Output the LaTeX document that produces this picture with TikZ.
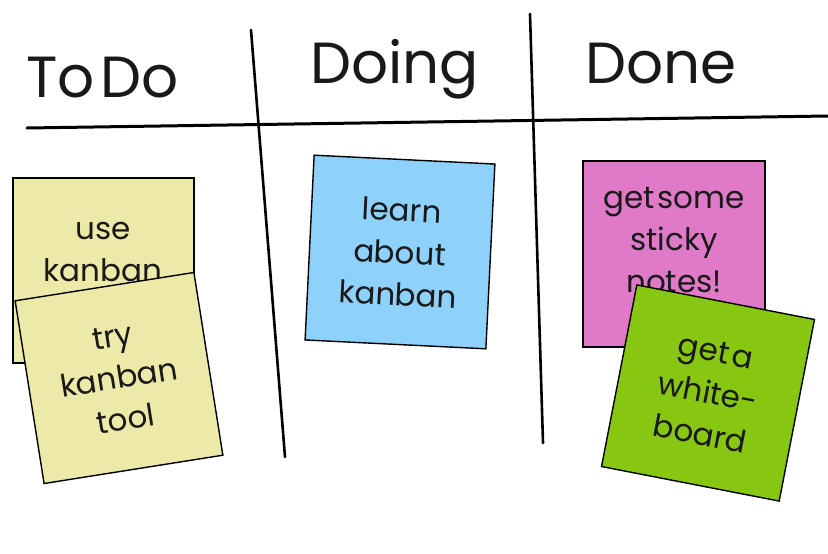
\documentclass[tikz,border=0pt]{standalone}
\usepackage{fontspec}
\setmainfont{Poppins}
\definecolor{ink}{RGB}{25,25,25}
\definecolor{noteyellow}{RGB}{237,233,168}
\definecolor{noteblue}{RGB}{142,209,250}
\definecolor{notepink}{RGB}{224,122,200}
\definecolor{notegreen}{RGB}{136,199,17}
\begin{document}
\begin{tikzpicture}[x=1pt,y=-1pt,
  board/.style={line width=3pt, black, line cap=round},
  note/.style={draw=black, line width=1.4pt, minimum width=181pt, minimum height=185pt, inner sep=0pt, outer sep=0pt, font=\fontsize{31}{42}\selectfont, text=ink, align=center},
  notetext/.style={font=\fontsize{31}{42}\selectfont, text=ink, align=center, inner sep=0pt},
  head/.style={font=\fontsize{58}{58}\selectfont, text=ink, inner sep=0pt, anchor=base west}]
\useasboundingbox (0,0) rectangle (828,554);
\fill[white] (0,0) rectangle (828,554);
% board lines
\coordinate (hl) at (27,128);
\coordinate (hr) at (828,116);
\coordinate (v1t) at (251,30);
\coordinate (v1b) at (285,457);
\coordinate (v2t) at (530,14);
\coordinate (v2b) at (543,443);
\draw[board] (hl) -- (hr);
\draw[board, line width=2.6pt] (v1t) -- (v1b);
\draw[board, line width=2.6pt] (v2t) -- (v2b);
% headers
\node[head] (htodo) at (26,97) {To\hspace{0.1em}Do};
\node[head] (hdoing) at (310,83) {Doing};
\node[head] (hdone) at (585,83) {Done};
% To Do notes
\node[note, fill=noteyellow] (n1) at (103.5,270.5) {};
\node[notetext] (t1) at (103,252) {use\\kanban};
\node[note, fill=noteyellow, rotate=9] (n2) at (119,378) {try\\kanban\\tool};
% Doing note
\node[note, fill=noteblue, rotate=-2.8] (n3) at (400,252) {learn\\about\\kanban};
% Done notes
\node[note, fill=notepink, minimum width=182pt, minimum height=186pt] (n4) at (674,254) {};
\node[notetext] (t4) at (674,240) {get\hspace{0.1em}some\\sticky\\notes!};
\node[note, fill=notegreen, rotate=-11] (n5) at (708,393) {get\hspace{0.1em}a\\white-\\board};
\end{tikzpicture}
\end{document}
